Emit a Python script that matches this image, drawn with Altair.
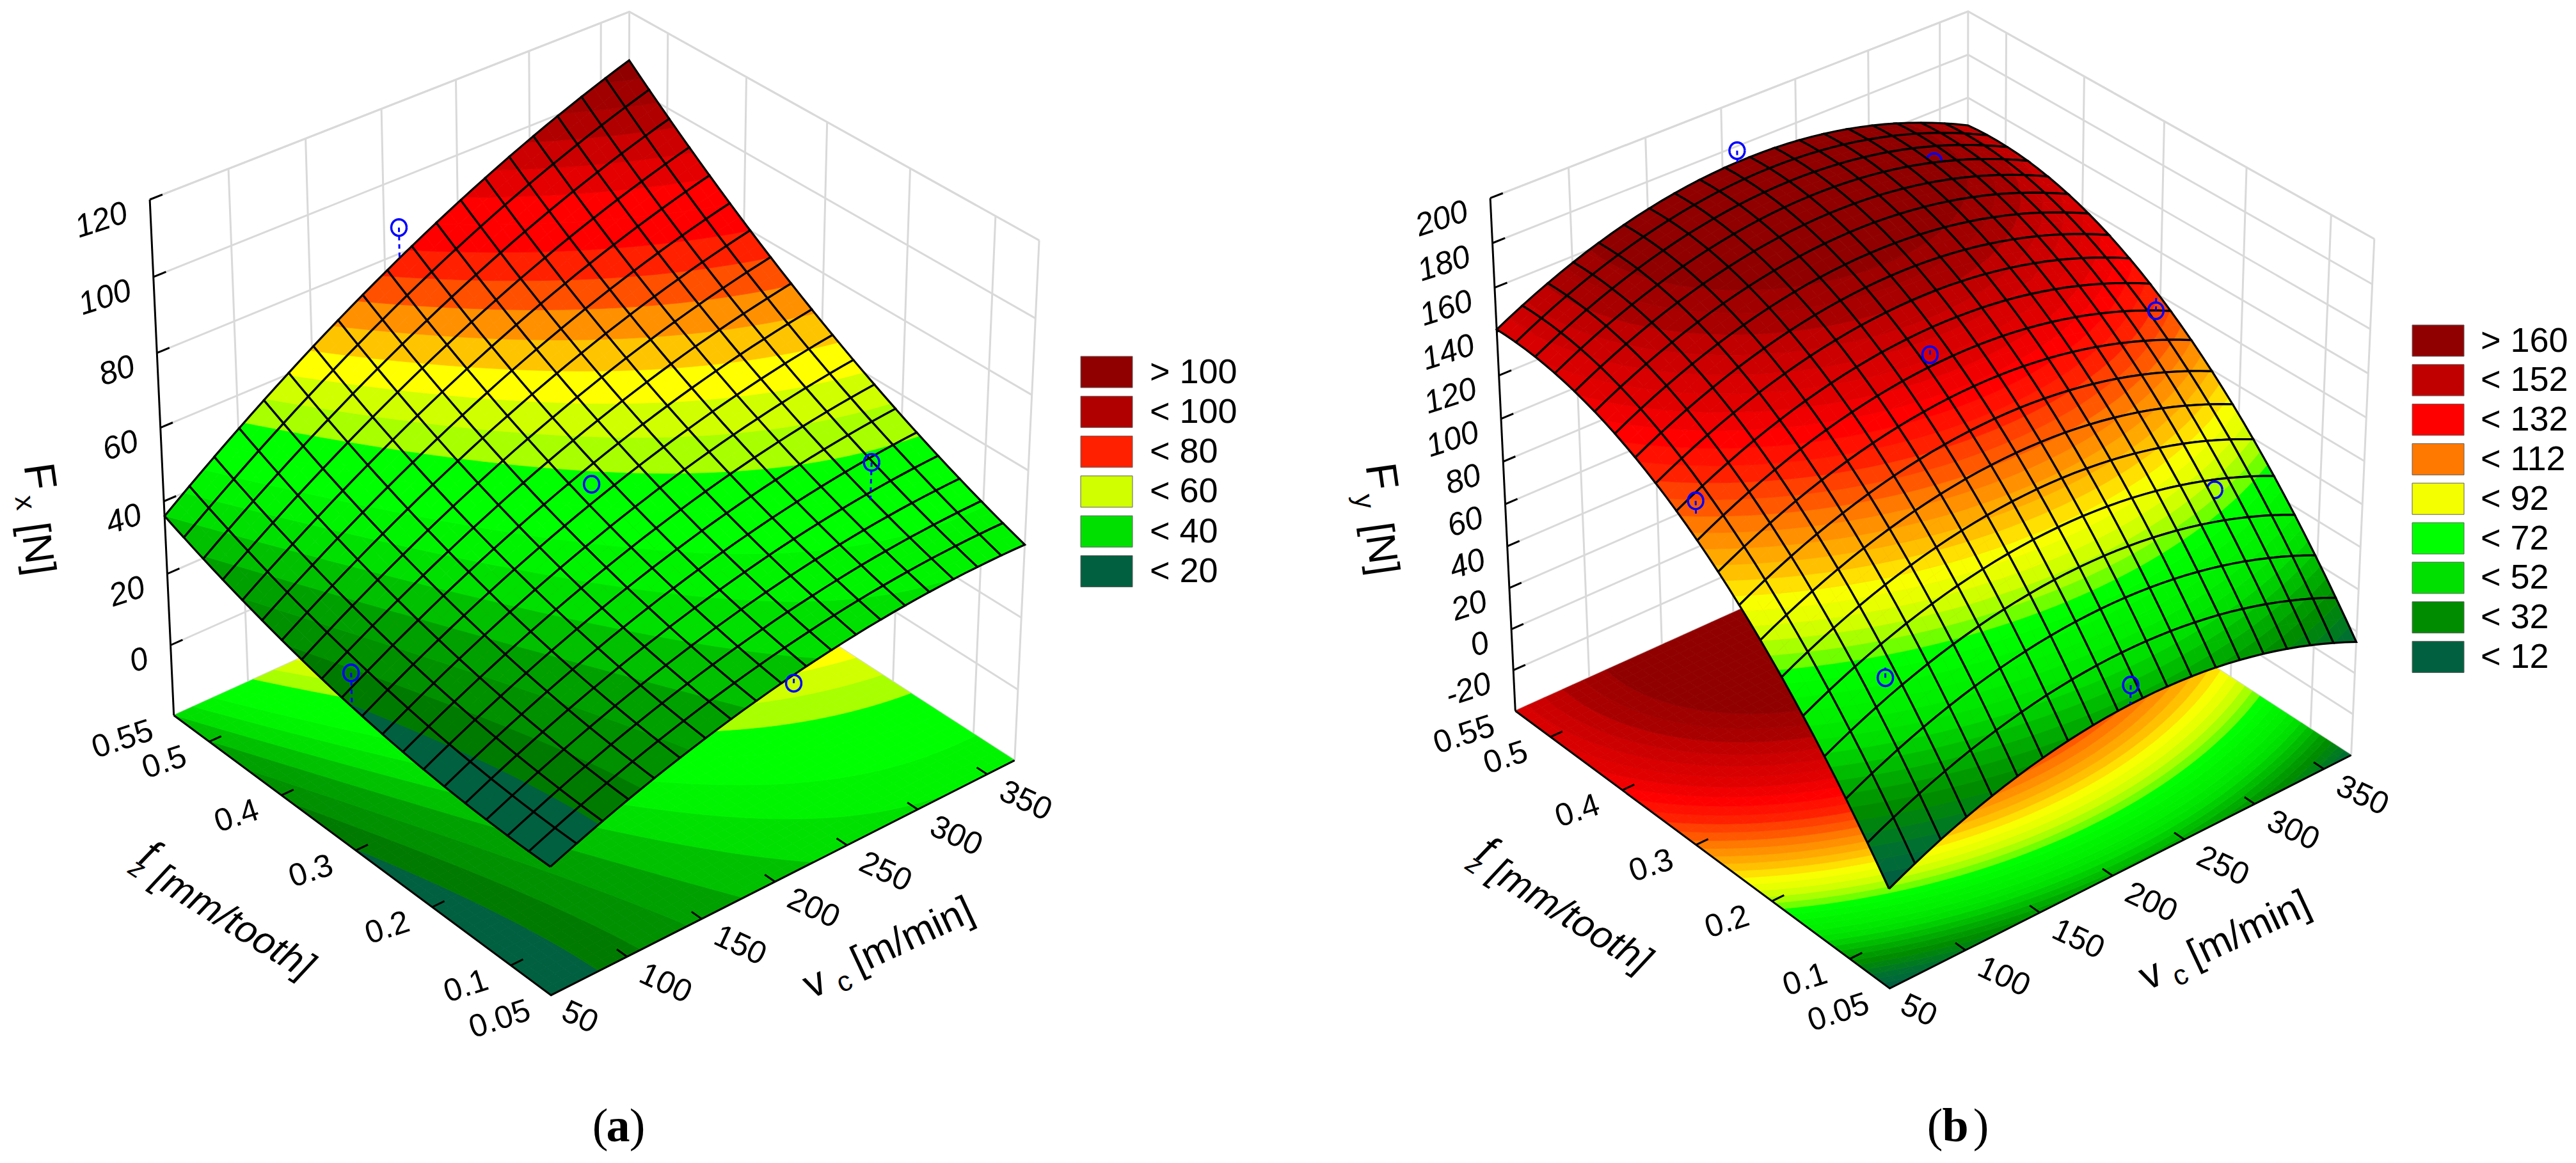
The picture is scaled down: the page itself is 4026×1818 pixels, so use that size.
import altair as alt
import numpy as np

# ---- values: force on an 11 x 11 grid, rows from fz low to fz high,
# columns from vc low to vc high
FX = [
 [15.0,20.1,24.6,28.6,32.0,34.8,37.0,38.6,39.6,40.1,40.0],
 [15.0,20.6,25.5,29.9,33.7,36.9,39.5,41.6,43.1,44.0,44.3],
 [15.5,21.5,26.9,31.7,35.9,39.6,42.6,45.1,47.0,48.3,49.1],
 [16.5,22.9,28.7,34.0,38.6,42.7,46.2,49.1,51.5,53.2,54.4],
 [17.9,24.7,31.0,36.7,41.8,46.4,50.3,53.7,56.5,58.7,60.3],
 [19.8,27.1,33.8,39.9,45.5,50.5,54.9,58.7,62.0,64.7,66.8],
 [22.1,29.9,37.1,43.7,49.7,55.2,60.0,64.3,68.0,71.2,73.7],
 [24.9,33.1,40.8,47.9,54.4,60.3,65.7,70.4,74.6,78.2,81.2],
 [28.1,36.9,45.0,52.6,59.5,66.0,71.8,77.0,81.7,85.8,89.3],
 [31.8,41.0,49.7,57.7,65.2,72.1,78.4,84.2,89.3,93.9,97.9],
 [36.0,45.7,54.8,63.4,71.4,78.8,85.6,91.8,97.4,102.5,107.0],
]
FY = [
 [7.0,17.5,25.9,32.1,36.1,38.0,37.7,35.3,30.7,23.9,15.0],
 [33.3,43.9,52.4,58.7,62.9,64.9,64.6,62.3,57.7,51.0,42.1],
 [56.7,67.5,76.1,82.5,86.7,88.7,88.6,86.2,81.7,75.0,66.0],
 [77.2,88.1,96.8,103.3,107.5,109.6,109.5,107.2,102.6,95.9,86.9],
 [94.9,105.9,114.6,121.1,125.5,127.5,127.4,125.1,120.5,113.8,104.8],
 [109.8,120.8,129.5,136.1,140.4,142.5,142.4,140.0,135.4,128.6,119.5],
 [121.7,132.8,141.6,148.1,152.4,154.5,154.3,151.9,147.2,140.3,131.2],
 [130.8,141.9,150.7,157.2,161.5,163.5,163.3,160.8,156.0,149.0,139.7],
 [137.1,148.1,156.9,163.4,167.6,169.6,169.2,166.7,161.8,154.6,145.2],
 [140.5,151.5,160.2,166.6,170.8,172.7,172.2,169.5,164.5,157.2,147.7],
 [141.0,152.0,160.6,167.0,171.0,172.8,172.2,169.4,164.2,156.8,147.0],
]
VC_RANGE = [50, 370]
FZ_RANGE = [0.05, 0.55]
VC_TICKS = [50, 100, 150, 200, 250, 300, 350]
FZ_TICKS = [0.05, 0.1, 0.2, 0.3, 0.4, 0.5, 0.55]
FZ_LABELS = ["0.05", "0.1", "0.2", "0.3", "0.4", "0.5", "0.55"]

FX_TICKS = [0, 20, 40, 60, 80, 100, 120]
FY_TICKS = [-20, 0, 20, 40, 60, 80, 100, 120, 140, 160, 180, 200]

# observed points (vc, fz, force); *_TOP: the point is in front of the surface
FX_VC = [210, 210, 318, 50, 210]
FX_FZ = [0.55, 0.30, 0.148, 0.30, 0.05]
FX_OBS = [87, 50.5, 58, 29, 32.5]
FX_TOP = [True, True, True, True, True]
FY_VC = [210, 307, 210, 367, 323, 56, 97, 210]
FY_FZ = [0.55, 0.477, 0.30, 0.30, 0.148, 0.30, 0.143, 0.05]
FY_OBS = [178, 162, 139, 114, 78, 119, 64, 47]
FY_TOP = [True, False, True, True, False, True, True, True]

# colour tables (upper limit of a 4-unit band -> colour)
FX_LEVELS = [20,24,28,32,36,40,44,48,52,56,60,64,68,72,76,80,84,88,92,96,100,104,108]
FX_COLORS = ["#006040","#007a00","#009000","#00a000","#00c000","#00e000","#00f400","#00ff00","#00ff00",
             "#a8ff00","#d0ff00","#ffff00","#ffc400","#ff9000","#ff5000","#ff2000","#ff0000","#ff0000",
             "#e40000","#cc0000","#b00000","#a00000","#900000"]
FY_LEVELS = [12,16,20,24,28,32,36,40,44,48,52,56,60,64,68,72,76,80,84,88,92,96,100,104,108,112,116,120,124,128,132,136,140,144,148,152,156,160,164]
FY_COLORS = ["#006040","#006a38","#007030","#007a20","#008410","#008c00","#009a00","#00aa00","#00bc00","#00ce00","#00e000",
             "#00e800","#00f000","#00f400","#00fa00","#00ff00","#70ff00","#a8ff00","#d0ff00","#e8ff00","#f8ff00","#ffe000","#ffc000","#ffa800",
             "#ff9000","#ff7800","#ff5800","#ff4000","#ff2000","#ff1000","#ff0000","#f00000","#e00000","#d80000","#cc0000","#c00000","#a80000","#a00000","#900000"]

FX_LEGEND = ["> 100", "< 100", "< 80", "< 60", "< 40", "< 20"]
FX_LEGEND_C = ["#900000", "#b00000", "#ff2000", "#d0ff00", "#00e000", "#006040"]
FY_LEGEND = ["> 160", "< 152", "< 132", "< 112", "< 92", "< 72", "< 52", "< 32", "< 12"]
FY_LEGEND_C = ["#900000", "#c00000", "#ff0000", "#ff7800", "#f4ff00", "#00ff00", "#00e000", "#008c00", "#006040"]

M = 8  # page margin
features, texts = [], []


def feat(kind, coords, fill, stroke, width):
    geom = {"type": kind, "coordinates": coords}
    return {"type": "Feature", "geometry": geom, "properties": {"c": fill, "s": stroke, "w": width}}


def line(pts, stroke, width):
    features.append(feat("LineString", [[round(float(p[0]), 1), round(float(p[1]), 1)] for p in pts],
                         "transparent", stroke, width))


def clip(poly, level, above):
    out = []
    n = len(poly)
    for i in range(n):
        a, b = poly[i], poly[(i + 1) % n]
        ina = a[2] >= level if above else a[2] <= level
        inb = b[2] >= level if above else b[2] <= level
        if ina:
            out.append(a)
        if ina != inb:
            t = (level - a[2]) / (b[2] - a[2])
            out.append((a[0] + t * (b[0] - a[0]), a[1] + t * (b[1] - a[1]), level))
    return out


def band_polys(poly, levels, colors):
    zs = [p[2] for p in poly]
    lo, hi = min(zs), max(zs)
    res = []
    lv = [-1e9] + levels[:-1] + [1e9]
    for k in range(len(levels)):
        a, b = lv[k], lv[k + 1]
        if hi < a or lo > b:
            continue
        q = poly
        if lo < a:
            q = clip(q, a, True)
        if q and hi > b:
            q = clip(q, b, False)
        if len(q) >= 3:
            res.append((q, colors[k]))
    return res


def fit_surface(grid):
    Z = np.array(grid, float)
    t = np.linspace(0, 1, Z.shape[0])
    V, U = np.meshgrid(t, t, indexing="ij")
    A = np.stack([U.ravel() ** i * V.ravel() ** j for i in range(3) for j in range(3)], axis=1)
    coef = np.linalg.lstsq(A, Z.ravel(), rcond=None)[0]

    def f(u, v):
        return sum(coef[n] * u ** i * v ** j for n, (i, j) in enumerate((i, j) for i in range(3) for j in range(3)))
    return f


def add_chart(cfg):
    world = [(0, 1, 0), (0, 1, 1), (0, 0, 0), (1, 0, 0), (1, 0, 1), (1, 1, 0), (1, 1, 1)]
    rows = []
    for W, (x, y) in zip(world, cfg["corners"]):
        X = list(W) + [1]
        x, y = (x - M) / 1000, (y - M) / 1000
        rows.append(X + [0, 0, 0, 0] + [-x * c for c in X])
        rows.append([0, 0, 0, 0] + X + [-y * c for c in X])
    P = np.linalg.svd(np.array(rows))[2][-1].reshape(3, 4)
    if P[2] @ np.array([.5, .5, .5, 1]) < 0:
        P = -P
    zmin, zmax = cfg["zrange"]
    um = lambda vc: (vc - VC_RANGE[0]) / (VC_RANGE[1] - VC_RANGE[0])
    vm = lambda fz: (fz - FZ_RANGE[0]) / (FZ_RANGE[1] - FZ_RANGE[0])
    wm = lambda z: (z - zmin) / (zmax - zmin)

    def proj(u, v, w):
        h = P @ np.array([u, v, w, 1.0])
        return h[0] / h[2] * 1000, h[1] / h[2] * 1000

    def depth(u, v, w):
        return float(P[2] @ np.array([u, v, w, 1.0]))

    # walls
    gray = "#d9d9d9"
    ticks = cfg["zticks"]
    for z in list(ticks) + [zmin, zmax]:
        w = wm(z)
        line([proj(0, 1, w), proj(1, 1, w), proj(1, 0, w)], gray, 3)
    for vc in VC_TICKS[1:]:
        line([proj(um(vc), 1, 0), proj(um(vc), 1, 1)], gray, 3)
    for fz in FZ_TICKS[1:-1]:
        line([proj(1, vm(fz), 0), proj(1, vm(fz), 1)], gray, 3)
    line([proj(1, 1, 0), proj(1, 1, 1)], gray, 3)
    line([proj(1, 0, 0), proj(1, 0, 1)], gray, 3)

    f = fit_surface(cfg["grid"])
    lv, col = cfg["levels"], cfg["colors"]

    # floor
    n = 50
    for i in range(n):
        for j in range(n):
            corners = [(i, j), (i + 1, j), (i + 1, j + 1), (i, j + 1)]
            poly = []
            for a, b in corners:
                u, v = a / n, b / n
                x, y = proj(u, v, 0)
                poly.append((x, y, float(f(u, v))))
            for q, c in band_polys(poly, lv, col):
                r = [[round(p[0], 1), round(p[1], 1)] for p in q]
                features.append(feat("Polygon", [r + [r[0]]], c, c, 0.8))

    # axes lines & ticks
    line([proj(0, 1, 0), proj(0, 0, 0), proj(1, 0, 0)], "#000000", 3)
    line([proj(0, 1, 0), proj(0, 1, 1)], "#000000", 3)
    for z in ticks:
        line([proj(0, 1, wm(z)), proj(0.025, 1, wm(z))], "#000000", 3)
        x, y = proj(0, 1, wm(z))
        texts.append(("right", "italic", "normal", "Liberation Sans", x - 36, y + 20, str(z), 50, -18))
    for vc in VC_TICKS[1:]:
        line([proj(um(vc), 0, 0), proj(um(vc), 0.025, 0)], "#000000", 3)
    for fz in FZ_TICKS[1:-1]:
        line([proj(0, vm(fz), 0), proj(0.025, vm(fz), 0)], "#000000", 3)
    for vc in VC_TICKS:
        x, y = proj(um(vc), 0, 0)
        dx, dy = (45, 35) if vc < 100 else (60, 42)
        texts.append(("center", "normal", "normal", "Liberation Sans", x + dx, y + dy, str(vc), 50, 25))
    for fz, lab in zip(FZ_TICKS, FZ_LABELS):
        x, y = proj(0, vm(fz), 0)
        dx, dy = (-80, 38) if len(lab) > 3 else (-70, 33)
        texts.append(("center", "normal", "normal", "Liberation Sans", x + dx, y + dy, lab, 50, -18))

    # surface + observed points, painted from far to near
    items = []
    N, S = 19, 2
    for i in range(N):
        for j in range(N):
            uc, vc_ = (i + .5) / N, (j + .5) / N
            items.append((depth(uc, vc_, wm(float(f(uc, vc_)))), "cell", (i, j)))
    for vc, fz, z, top in cfg["obs"]:
        u, v = um(vc), vm(fz)
        items.append((-1e9 if top else depth(u, v, wm(z)), "obs", (u, v, z)))
    items.sort(key=lambda t: -t[0])
    blue = "#0000ff"
    for _, kind, data in items:
        if kind == "cell":
            i, j = data
            for a in range(S):
                for b in range(S):
                    poly = []
                    for da, db in [(0, 0), (1, 0), (1, 1), (0, 1)]:
                        u = (i + (a + da) / S) / N
                        v = (j + (b + db) / S) / N
                        z = float(f(u, v))
                        x, y = proj(u, v, wm(z))
                        poly.append((x, y, z))
                    for q, c in band_polys(poly, lv, col):
                        r = [[round(p[0], 1), round(p[1], 1)] for p in q]
                        features.append(feat("Polygon", [r + [r[0]]], c, c, 0.8))
            edge = []
            path = [(0, 0), (1, 0), (1, 1), (0, 1), (0, 0)]
            for k in range(4):
                for s in range(S):
                    t = s / S
                    ua = path[k][0] + t * (path[k + 1][0] - path[k][0])
                    va = path[k][1] + t * (path[k + 1][1] - path[k][1])
                    u, v = (i + ua) / N, (j + va) / N
                    edge.append(proj(u, v, wm(float(f(u, v)))))
            edge.append(edge[0])
            line(edge, "#000000", 3.2)
        else:
            u, v, z = data
            cx, cy = proj(u, v, wm(z))
            bx, by = proj(u, v, wm(float(f(u, v))))
            L = float(np.hypot(bx - cx, by - cy))
            if L > 12:
                k = 0.0
                while k < 1:
                    e = min(k + 7 / L, 1)
                    line([(cx + k * (bx - cx), cy + k * (by - cy)), (cx + e * (bx - cx), cy + e * (by - cy))], blue, 3)
                    k += 13 / L
            ang = np.linspace(0, 2 * np.pi, 25)
            line([(cx + 12 * np.cos(t), cy + 13 * np.sin(t)) for t in ang], blue, 3.5)

    # legend
    lx0, lx1, ly0, step, h = cfg["legend_box"]
    for i, (lab, c) in enumerate(zip(cfg["legend"], cfg["legend_c"])):
        y0 = ly0 + i * step - M
        x0, x1 = lx0 - M, lx1 - M
        r = [[x0, y0], [x1, y0], [x1, y0 + h], [x0, y0 + h], [x0, y0]]
        features.append(feat("Polygon", [r], c, "#606060", 1))
        texts.append(("left", "normal", "normal", "Liberation Sans", cfg["legend_tx"] - M, y0 + h / 2 + 1, lab, 54, 0))

    for row in cfg["titles"]:
        al, st, wt, fam, x, y, t, s, a = row
        texts.append((al, st, wt, fam, x - M, y - M, t, s, a))


SANS = "Liberation Sans"
SERIF = "Liberation Serif"
add_chart(dict(
    corners=[(271, 1118), (235, 312), (861, 1556), (1585, 1188), (1625, 376), (982, 798), (982, 18)],
    zrange=(-20, 120), zticks=FX_TICKS, grid=FX, levels=FX_LEVELS, colors=FX_COLORS,
    obs=list(zip(FX_VC, FX_FZ, FX_OBS, FX_TOP)),
    legend=FX_LEGEND, legend_c=FX_LEGEND_C, legend_box=(1689, 1770, 557, 62.3, 49), legend_tx=1797,
    titles=[
        ("center", "normal", "normal", SANS, 60, 745, "F", 68, 82),
        ("center", "normal", "normal", SANS, 38, 786, "x", 44, 82),
        ("center", "normal", "normal", SANS, 57, 858, "[N]", 64, 82),
        ("center", "italic", "normal", SANS, 232, 1336, "f", 64, 33),
        ("center", "italic", "normal", SANS, 214, 1358, "z", 42, 33),
        ("center", "italic", "normal", SANS, 364, 1442, "[mm/tooth]", 60, 32),
        ("center", "normal", "normal", SANS, 1274, 1538, "v", 64, -25),
        ("center", "normal", "normal", SANS, 1320, 1536, "c", 44, -25),
        ("center", "normal", "normal", SANS, 1426, 1463, "[m/min]", 62, -25),
        ("center", "normal", "normal", SERIF, 938, 1762, "(", 74, 0),
        ("center", "normal", "bold", SERIF, 966, 1762, "a", 74, 0),
        ("center", "normal", "normal", SERIF, 996, 1762, ")", 74, 0),
    ]))
add_chart(dict(
    corners=[(2367, 1111), (2330, 310), (2954, 1545), (3673, 1181), (3712, 373), (3077, 792), (3074, 18)],
    zrange=(-40, 200), zticks=FY_TICKS, grid=FY, levels=FY_LEVELS, colors=FY_COLORS,
    obs=list(zip(FY_VC, FY_FZ, FY_OBS, FY_TOP)),
    legend=FY_LEGEND, legend_c=FY_LEGEND_C, legend_box=(3770, 3851, 508, 61.8, 49), legend_tx=3877,
    titles=[
        ("center", "normal", "normal", SANS, 2157, 745, "F", 68, 82),
        ("center", "normal", "normal", SANS, 2131, 784, "y", 44, 82),
        ("center", "normal", "normal", SANS, 2157, 858, "[N]", 64, 82),
        ("center", "italic", "normal", SANS, 2322, 1330, "f", 64, 33),
        ("center", "italic", "normal", SANS, 2304, 1352, "z", 42, 33),
        ("center", "italic", "normal", SANS, 2454, 1433, "[mm/tooth]", 60, 32),
        ("center", "normal", "normal", SANS, 3362, 1525, "v", 64, -25),
        ("center", "normal", "normal", SANS, 3408, 1526, "c", 44, -25),
        ("center", "normal", "normal", SANS, 3515, 1453, "[m/min]", 62, -25),
        ("center", "normal", "normal", SERIF, 3024, 1762, "(", 74, 0),
        ("center", "normal", "bold", SERIF, 3056, 1762, "b", 74, 0),
        ("center", "normal", "normal", SERIF, 3096, 1762, ")", 74, 0),
    ]))

geo = alt.Chart(alt.Data(values=features)).mark_geoshape().encode(
    fill=alt.Fill("properties.c:N", scale=None),
    stroke=alt.Stroke("properties.s:N", scale=None),
    strokeWidth=alt.StrokeWidth("properties.w:Q", scale=None),
).project(type="identity", scale=1, translate=[0, 0])

layers = [geo]
groups = sorted(set(t[:4] for t in texts))
for al, st, wt, fam in groups:
    vals = [dict(x=t[4], y=t[5], t=t[6], s=t[7], a=(t[8] % 360)) for t in texts if t[:4] == (al, st, wt, fam)]
    layers.append(
        alt.Chart(alt.Data(values=vals)).mark_text(
            align=al, baseline="middle", fontStyle=st, fontWeight=wt, font=fam, color="#000000"
        ).encode(
            x=alt.X("x:Q", scale=None, axis=None),
            y=alt.Y("y:Q", scale=None, axis=None),
            text="t:N",
            size=alt.Size("s:Q", scale=None),
            angle=alt.Angle("a:Q", scale=None),
        )
    )

chart = alt.layer(*layers).properties(
    width=4010, height=1800, padding=0, autosize=alt.AutoSizeParams(type="none"), background="white"
).configure_view(stroke=None)

chart.save("out.html", embed_options={"renderer": "svg", "actions": False})
